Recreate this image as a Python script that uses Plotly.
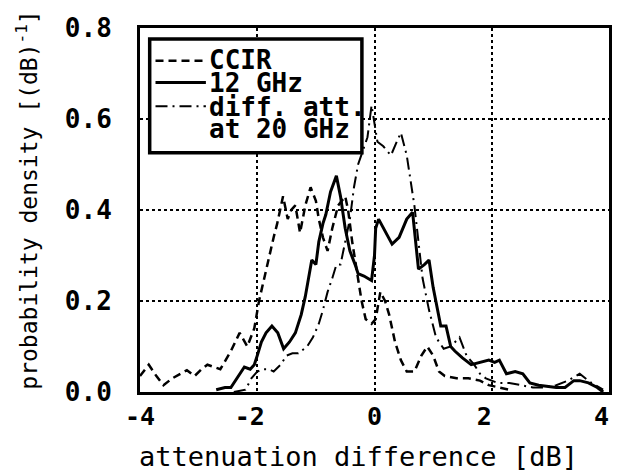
import plotly.graph_objects as go

# ---- data ----
ccir_x = [-4.0, -3.85, -3.72, -3.6, -3.45, -3.3, -3.2, -3.07, -2.95, -2.85, -2.63, -2.45, -2.3, -2.17,
          -2.05, -1.97, -1.88, -1.8, -1.72, -1.66, -1.56, -1.48, -1.42, -1.35, -1.27, -1.18, -1.09, -1.0,
          -0.95, -0.88, -0.8, -0.72, -0.62, -0.5, -0.45, -0.38, -0.3, -0.22, -0.15, -0.05, 0.02, 0.1,
          0.18, 0.25, 0.35, 0.45, 0.55, 0.68, 0.8, 0.9, 1.0, 1.1, 1.2, 1.4, 1.6, 1.8, 1.95, 2.1, 2.3]
ccir_y = [0.035, 0.06, 0.035, 0.015, 0.03, 0.04, 0.048, 0.035, 0.05, 0.06, 0.05, 0.09, 0.13, 0.10,
          0.14, 0.20, 0.25, 0.30, 0.34, 0.37, 0.43, 0.38, 0.40, 0.41, 0.35, 0.41, 0.45, 0.42,
          0.38, 0.34, 0.31, 0.36, 0.41, 0.43, 0.40, 0.33, 0.26, 0.20, 0.16, 0.15, 0.16, 0.22,
          0.20, 0.17, 0.11, 0.07, 0.045, 0.045, 0.08, 0.10, 0.08, 0.045, 0.035, 0.03, 0.03, 0.025, 0.015, 0.01, 0.005]

ghz12_x = [-2.7, -2.55, -2.45, -2.35, -2.22, -2.12, -2.05, -2.0, -1.93, -1.85, -1.75, -1.65, -1.55,
           -1.45, -1.35, -1.25, -1.18, -1.07, -1.0, -0.95, -0.88, -0.83, -0.75, -0.65, -0.58, -0.5,
           -0.42, -0.33, -0.28, -0.18, -0.05, 0.0, 0.02, 0.07, 0.15, 0.3, 0.42, 0.55, 0.65, 0.75,
           0.85, 0.93, 1.0, 1.05, 1.13, 1.22, 1.3, 1.37, 1.5, 1.65, 1.8, 1.95, 2.05, 2.13, 2.25,
           2.4, 2.53, 2.65, 2.8, 2.95, 3.1, 3.25, 3.4, 3.5, 3.65, 3.8, 3.9]
ghz12_y = [0.005, 0.01, 0.01, 0.03, 0.055, 0.05, 0.06, 0.08, 0.11, 0.13, 0.145, 0.13, 0.095,
           0.11, 0.13, 0.17, 0.21, 0.29, 0.28, 0.33, 0.37, 0.39, 0.44, 0.475, 0.43, 0.36,
           0.31, 0.28, 0.26, 0.255, 0.245, 0.30, 0.36, 0.38, 0.36, 0.325, 0.34, 0.38, 0.395, 0.27,
           0.28, 0.29, 0.23, 0.20, 0.145, 0.145, 0.10, 0.09, 0.075, 0.06, 0.065, 0.07, 0.065, 0.07, 0.04,
           0.045, 0.04, 0.02, 0.015, 0.012, 0.01, 0.01, 0.025, 0.025, 0.02, 0.01, 0.0]

att20_x = [-2.4, -2.2, -2.1, -2.0, -1.9, -1.8, -1.72, -1.6, -1.5, -1.4, -1.3, -1.15, -1.05, -0.95,
           -0.88, -0.8, -0.72, -0.65, -0.58, -0.5, -0.42, -0.35, -0.28, -0.2, -0.12, -0.05, 0.05,
           0.15, 0.28, 0.38, 0.45, 0.55, 0.62, 0.68, 0.75, 0.82, 0.93, 1.05, 1.18, 1.3, 1.45, 1.57,
           1.7, 1.8, 1.9, 2.1, 2.3, 2.5, 2.7, 2.9, 3.1, 3.3, 3.5, 3.7, 3.9]
att20_y = [0.0, 0.005, 0.03, 0.045, 0.05, 0.05, 0.045, 0.06, 0.08, 0.085, 0.085, 0.10, 0.12, 0.15,
           0.18, 0.22, 0.25, 0.28, 0.28, 0.33, 0.38, 0.45, 0.50, 0.53, 0.56, 0.63, 0.55,
           0.54, 0.52, 0.55, 0.57, 0.52, 0.46, 0.41, 0.33, 0.25, 0.18, 0.12, 0.095, 0.10, 0.12, 0.08,
           0.06, 0.04, 0.03, 0.02, 0.02, 0.015, 0.01, 0.01, 0.015, 0.025, 0.04, 0.02, 0.005]

x_ticks = [-4, -2, 0, 2, 4]
x_tick_text = ["-4", "-2\u00a0", "0", "2\u00a0", "4\u00a0"]
y_ticks = [0.0, 0.2, 0.4, 0.6, 0.8]
y_tick_text = ["0.0", "0.2", "0.4", "0.6", "0.8"]

legend_names = ["CCIR", "12 GHz", "diff. att.", "at 20 GHz"]
x_title = "attenuation difference [dB]"
y_title = "probability density [(dB)<sup>-1</sup>]"

MONO = "DejaVu Sans Mono"

fig = go.Figure()
fig.add_trace(go.Scatter(x=ccir_x, y=ccir_y, mode="lines", name="CCIR", showlegend=False,
                         line=dict(color="black", width=2.5, dash="8px,5px")))
fig.add_trace(go.Scatter(x=ghz12_x, y=ghz12_y, mode="lines", name="12 GHz", showlegend=False,
                         line=dict(color="black", width=3)))
fig.add_trace(go.Scatter(x=att20_x, y=att20_y, mode="lines", name="diff. att. at 20 GHz", showlegend=False,
                         line=dict(color="black", width=2, dash="12px,5px,2px,5px")))

# ---- legend box and titles placed in paper coordinates ----
W, H = 484.0, 368.0
def px(xp):
    return (xp - 132) / W
def py(yp):
    return (384 - yp) / H

fig.add_shape(type="rect", xref="paper", yref="paper", x0=px(142), x1=px(361), y0=py(142), y1=py(27),
              line=dict(color="black", width=3.5), fillcolor="white", layer="above")
sample_styles = [("8px,5px", 2.5, 49), ("solid", 3, 71), ("12px,5px,2px,5px", 2, 95)]
for dash, w, yy in sample_styles:
    fig.add_shape(type="line", xref="paper", yref="paper", x0=px(148), x1=px(200), y0=py(yy), y1=py(yy),
                  line=dict(color="black", width=w, dash=dash), layer="above")
for name, yy in zip(legend_names, [48, 72, 96, 118]):
    fig.add_annotation(xref="paper", yref="paper", x=px(201), y=py(yy), text=name, showarrow=False,
                       xanchor="left", yanchor="middle",
                       font=dict(family=MONO, size=26, color="black", weight="bold"))

fig.add_annotation(xref="paper", yref="paper", x=px(357), y=py(449), text=x_title, showarrow=False,
                   xanchor="center", yanchor="middle", font=dict(family=MONO, size=27, color="black"))
fig.add_annotation(xref="paper", yref="paper", x=px(16), y=py(190), text=y_title, showarrow=False,
                   textangle=-90, xanchor="center", yanchor="middle",
                   font=dict(family=MONO, size=23, color="black"))

fig.update_layout(
    width=621, height=473,
    margin=dict(l=132, r=5, t=16, b=89),
    paper_bgcolor="white", plot_bgcolor="white",
    showlegend=False,
    font=dict(family=MONO, color="black"),
)
fig.update_xaxes(
    range=[-4, 4], tickvals=x_ticks, ticktext=x_tick_text,
    tickfont=dict(family=MONO, size=25, weight="bold"), ticklabelstandoff=0,
    ticklabeloverflow="allow",
    showgrid=True, gridcolor="black", griddash="dot", gridwidth=1.5,
    showline=True, linecolor="black", linewidth=3, mirror=True,
    zeroline=False, ticks="",
)
fig.update_yaxes(
    range=[0, 0.8], tickvals=y_ticks, ticktext=y_tick_text,
    tickfont=dict(family=MONO, size=26, weight="bold"), ticklabelstandoff=20,
    showgrid=True, gridcolor="black", griddash="dot", gridwidth=1.5,
    showline=True, linecolor="black", linewidth=3, mirror=True,
    zeroline=False, ticks="",
)

fig.write_html("out.html")
